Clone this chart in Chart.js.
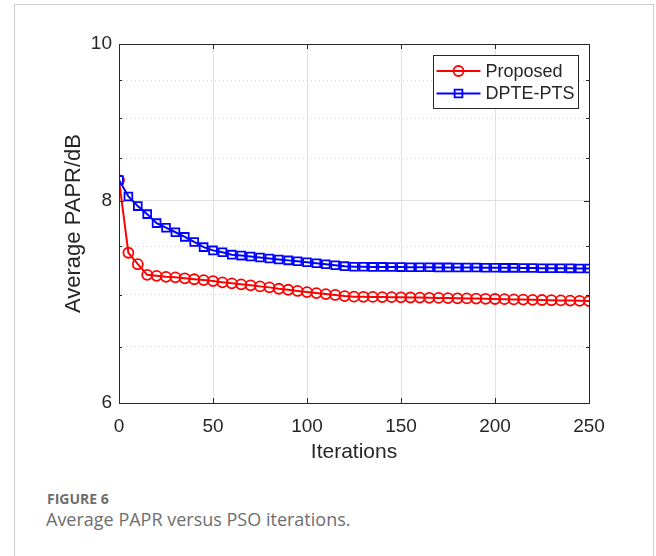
<!DOCTYPE html>
<html>
<head>
<meta charset="utf-8">
<script src="https://cdn.jsdelivr.net/npm/chart.js@4.4.1/dist/chart.umd.min.js"></script>
<style>
    html, body { margin: 0; padding: 0; background: #ffffff; }
    body { width: 656px; height: 556px; position: relative; overflow: hidden; }
    .frame {
        position: absolute; left: 14px; top: 4px; width: 640px; height: 600px;
        border: 1px solid #cccccc; box-sizing: border-box;
    }
    .chart-box { position: absolute; left: 0; top: 0; width: 656px; height: 480px; }
    .fig-label {
        position: absolute; left: 47px; top: 489px;
        font-family: "Open Sans", sans-serif; font-weight: 700; font-size: 14px;
        color: #6e6e6e;
    }
    .fig-caption {
        position: absolute; left: 46px; top: 507px;
        font-family: "Open Sans", sans-serif; font-size: 18px; color: #6e6e6e;
    }
</style>
</head>
<body>
<div class="frame"></div>
<div class="chart-box"><canvas id="paprChart" width="656" height="480"></canvas></div>
<div class="fig-label">FIGURE 6</div>
<div class="fig-caption">Average PAPR versus PSO iterations.</div>

<script>
// Data (PSO iterations vs. average PAPR in dB)
const iterations = [
    0, 5, 10, 15, 20, 25, 30, 35, 40, 45,
    50, 55, 60, 65, 70, 75, 80, 85, 90, 95,
    100, 105, 110, 115, 120, 125, 130, 135, 140, 145,
    150, 155, 160, 165, 170, 175, 180, 185, 190, 195,
    200, 205, 210, 215, 220, 225, 230, 235, 240, 245,
    250
];

const proposedPapr = [
    8.24, 7.43, 7.31, 7.20, 7.19, 7.18, 7.175, 7.165, 7.155, 7.147,
    7.137, 7.124, 7.114, 7.104, 7.094, 7.083, 7.073, 7.059, 7.049, 7.037,
    7.026, 7.016, 7.006, 6.997, 6.986, 6.980, 6.979, 6.978, 6.976, 6.975,
    6.974, 6.972, 6.971, 6.969, 6.968, 6.966, 6.964, 6.963, 6.961, 6.959,
    6.957, 6.955, 6.953, 6.951, 6.949, 6.947, 6.945, 6.943, 6.941, 6.939,
    6.937
];

const dptePtsPapr = [
    8.24, 8.05, 7.94, 7.85, 7.75, 7.70, 7.65, 7.60, 7.545, 7.49,
    7.455, 7.435, 7.41, 7.40, 7.39, 7.38, 7.37, 7.36, 7.35, 7.34,
    7.33, 7.32, 7.31, 7.30, 7.29, 7.284, 7.283, 7.282, 7.282, 7.281,
    7.28, 7.279, 7.279, 7.278, 7.277, 7.277, 7.276, 7.276, 7.275, 7.274,
    7.273, 7.272, 7.272, 7.271, 7.270, 7.269, 7.268, 7.268, 7.267, 7.266,
    7.265
];

const seriesLabels = ['Proposed', 'DPTE-PTS'];
const xTicks = [0, 50, 100, 150, 200, 250];
const yMajorTicks = [6, 8, 10];
const yMinorTicks = [6.5, 7, 7.5, 8.5, 9, 9.5];

const AXIS_COLOR = '#262626';
const GRID_COLOR = '#e2e2e2';
const FONT_FAMILY = '"Liberation Sans", Arial, sans-serif';

function toPoints(values) {
    return iterations.map((x, i) => ({ x: x, y: values[i] }));
}

// Box around the plot plus MATLAB-style inward tick marks
const axesBoxPlugin = {
    id: 'axesBox',
    afterDatasetsDraw(chart) {
        const ctx = chart.ctx;
        const area = chart.chartArea;
        const xScale = chart.scales.x;
        const yScale = chart.scales.y;
        ctx.save();
        ctx.strokeStyle = AXIS_COLOR;
        ctx.lineWidth = 1;
        ctx.beginPath();
        xTicks.forEach(v => {
            const px = Math.round(xScale.getPixelForValue(v)) + 0.5;
            ctx.moveTo(px, area.bottom); ctx.lineTo(px, area.bottom - 5);
            ctx.moveTo(px, area.top); ctx.lineTo(px, area.top + 5);
        });
        yMajorTicks.concat(yMinorTicks).forEach(v => {
            const py = Math.round(yScale.getPixelForValue(v)) + 0.5;
            const len = yMajorTicks.includes(v) ? 5 : 3;
            ctx.moveTo(area.left, py); ctx.lineTo(area.left + len, py);
            ctx.moveTo(area.right, py); ctx.lineTo(area.right - len, py);
        });
        ctx.stroke();
        ctx.strokeRect(Math.round(area.left) + 0.5, Math.round(area.top) + 0.5,
            Math.round(area.right - area.left), Math.round(area.bottom - area.top));
        ctx.restore();
    }
};

// Legend drawn inside the plot, top right corner
const insideLegendPlugin = {
    id: 'insideLegend',
    afterDraw(chart) {
        const ctx = chart.ctx;
        const area = chart.chartArea;
        const w = 145, h = 53;
        const bx = Math.round(area.right - 11 - w) + 0.5;
        const by = Math.round(area.top + 11) + 0.5;
        ctx.save();
        ctx.fillStyle = '#ffffff';
        ctx.fillRect(bx, by, w, h);
        ctx.strokeStyle = AXIS_COLOR;
        ctx.lineWidth = 1;
        ctx.strokeRect(bx, by, w, h);

        chart.data.datasets.forEach((ds, i) => {
            const cy = by + 15.5 + i * 22.5;
            ctx.strokeStyle = ds.borderColor;
            ctx.lineWidth = ds.borderWidth;
            ctx.beginPath();
            ctx.moveTo(bx + 3, cy);
            ctx.lineTo(bx + 47, cy);
            ctx.stroke();
            // hollow marker, like the plotted points
            ctx.fillStyle = 'rgba(0,0,0,0)';
            ctx.lineWidth = ds.pointBorderWidth;
            Chart.helpers.drawPoint(ctx, {
                pointStyle: ds.pointStyle,
                radius: ds.pointRadius,
                borderWidth: ds.pointBorderWidth,
                rotation: 0
            }, bx + 25, cy);

            ctx.fillStyle = AXIS_COLOR;
            ctx.font = '18px ' + FONT_FAMILY;
            ctx.textBaseline = 'middle';
            ctx.textAlign = 'left';
            ctx.fillText(ds.label, bx + 52, cy + 1);
        });
        ctx.restore();
    }
};

function buildChart() {
    const ctx = document.getElementById('paprChart');
    new Chart(ctx, {
        type: 'line',
        data: {
            datasets: [
                {
                    label: seriesLabels[0],
                    data: toPoints(proposedPapr),
                    borderColor: '#ff0000',
                    backgroundColor: 'rgba(0,0,0,0)',
                    borderWidth: 2,
                    pointStyle: 'circle',
                    pointRadius: 5,
                    pointBorderWidth: 1.8,
                    pointBorderColor: '#ff0000',
                    pointBackgroundColor: 'rgba(0,0,0,0)',
                    order: 1
                },
                {
                    label: seriesLabels[1],
                    data: toPoints(dptePtsPapr),
                    borderColor: '#0000ff',
                    backgroundColor: 'rgba(0,0,0,0)',
                    borderWidth: 2,
                    pointStyle: 'rect',
                    pointRadius: 5.5,
                    pointBorderWidth: 1.8,
                    pointBorderColor: '#0000ff',
                    pointBackgroundColor: 'rgba(0,0,0,0)',
                    order: 0
                }
            ]
        },
        options: {
            responsive: false,
            animation: false,
            devicePixelRatio: 1,
            layout: { padding: { left: 50, top: 44, right: 67, bottom: 0 } },
            plugins: {
                legend: { display: false },
                tooltip: { enabled: false }
            },
            elements: { line: { tension: 0 } },
            scales: {
                x: {
                    type: 'linear',
                    min: 0,
                    max: 250,
                    afterBuildTicks: scale => { scale.ticks = xTicks.map(v => ({ value: v })); },
                    afterFit: scale => { scale.height = 77; },
                    grid: { color: GRID_COLOR, drawTicks: false },
                    border: { color: AXIS_COLOR },
                    ticks: {
                        padding: 12,
                        color: AXIS_COLOR,
                        font: { family: FONT_FAMILY, size: 19 }
                    },
                    title: {
                        display: true,
                        text: 'Iterations',
                        color: AXIS_COLOR,
                        font: { family: FONT_FAMILY, size: 21 },
                        padding: { top: 0, bottom: 15 }
                    }
                },
                y: {
                    type: 'logarithmic',
                    position: 'left',
                    min: 6,
                    max: 10,
                    afterBuildTicks: scale => { scale.ticks = yMajorTicks.map(v => ({ value: v })); },
                    afterFit: scale => { scale.width = 69; },
                    grid: { color: GRID_COLOR, drawTicks: false },
                    border: { color: AXIS_COLOR },
                    ticks: {
                        padding: 7,
                        color: AXIS_COLOR,
                        font: { family: FONT_FAMILY, size: 19 },
                        callback: value => String(value)
                    },
                    title: {
                        display: true,
                        text: 'Average PAPR/dB',
                        color: AXIS_COLOR,
                        font: { family: FONT_FAMILY, size: 22 },
                        padding: { top: 11, bottom: 0 }
                    }
                },
                // second log axis only for the dotted minor grid lines
                yMinor: {
                    type: 'logarithmic',
                    position: 'left',
                    min: 6,
                    max: 10,
                    afterBuildTicks: scale => { scale.ticks = yMinorTicks.map(v => ({ value: v })); },
                    afterFit: scale => { scale.width = 0; },
                    grid: { color: '#d4d4d4', drawTicks: false },
                    border: { display: false, dash: [1, 3] },
                    ticks: { display: false }
                }
            }
        },
        plugins: [axesBoxPlugin, insideLegendPlugin]
    });
}

document.addEventListener('DOMContentLoaded', function() {
    buildChart();
});
</script>
</body>
</html>
